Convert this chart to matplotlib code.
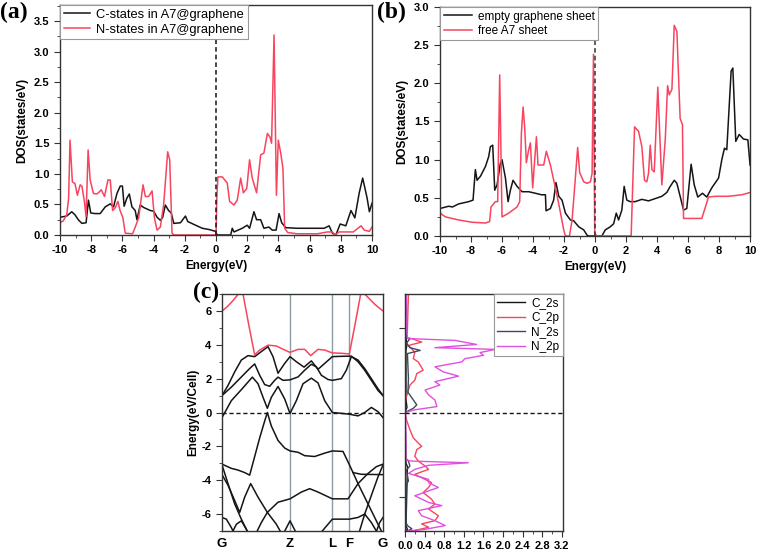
import matplotlib
matplotlib.use('Agg')
import matplotlib.pyplot as plt
import numpy as np
from matplotlib.ticker import MultipleLocator, FormatStrFormatter

plt.rcParams['font.family'] = ['Liberation Sans', 'DejaVu Sans']
plt.rcParams['axes.unicode_minus'] = False

RED = '#f8445f'
MAG = '#e050e0'
SLATE = '#3c4a5e'
BLK = '#151515'

# ---- (a) A7@graphene PDOS ----
a_c_E = [-10, -9.57, -9.25, -9.04, -8.83, -8.6, -8.33, -8.18, -8.03, -7.75, -7.43, -7.1, -6.78, -6.57,
         -6.35, -6.14, -6.0, -5.89, -5.72, -5.56, -5.39, -5.18, -5.07, -4.86, -4.64, -4.21, -4.0, -3.78,
         -3.57, -3.42, -3.25, -3.04, -2.87, -2.71, -2.28, -1.96, -1.81, -1.31, -0.88, -0.45, -0.03, 0.0,
         0.1, 0.94, 1.04, 1.15, 1.68, 2.0, 2.15, 2.43, 2.6, 2.86, 3.07, 3.39, 3.6, 3.85, 4.04, 4.21,
         4.47, 5.22, 6.93, 7.25, 7.46, 7.68, 7.96, 8.32, 8.65, 8.9, 9.18, 9.4, 9.68, 9.83, 10]
a_c = [0.29, 0.31, 0.38, 0.33, 0.25, 0.19, 0.2, 0.57, 0.36, 0.35, 0.35, 0.46, 0.51, 0.46,
       0.68, 0.8, 0.8, 0.47, 0.6, 0.67, 0.46, 0.4, 0.25, 0.49, 0.45, 0.4, 0.39, 0.29,
       0.24, 0.29, 0.49, 0.4, 0.36, 0.19, 0.2, 0.31, 0.22, 0.16, 0.11, 0.09, 0.06, 0.03,
       0.0, 0.0, 0.11, 0.05, 0.11, 0.16, 0.11, 0.38, 0.25, 0.25, 0.11, 0.13, 0.08, 0.08, 0.35, 0.2,
       0.12, 0.11, 0.11, 0.15, 0.03, 0.0, 0.18, 0.15, 0.4, 0.28, 0.69, 0.93, 0.61, 0.38, 0.52]

a_n_E = [-10, -9.8, -9.57, -9.45, -9.36, -9.21, -9.04, -8.89, -8.71, -8.6, -8.44, -8.33, -8.2, -8.07,
         -7.86, -7.65, -7.5, -7.36, -7.15, -6.93, -6.78, -6.63, -6.45, -6.29, -6.15, -5.97, -5.82,
         -5.35, -5.18, -4.96, -4.68, -4.53, -4.32, -4.1, -3.95, -3.78, -3.57, -3.36, -3.1, -2.97,
         -2.82, -2.7, 0.0, 0.05, 0.12, 0.4, 0.72, 0.87, 1.15, 1.36, 1.58, 1.75, 1.97, 2.15, 2.32,
         2.6, 2.86, 3.07, 3.29, 3.46, 3.56, 3.72, 3.87, 3.99, 4.14, 4.29, 4.4, 4.6, 5.2, 6.5, 7.15,
         7.46, 7.62, 7.9, 8.8, 9.3, 9.5, 9.83, 10]
a_n = [0.2, 0.23, 0.33, 0.6, 1.55, 0.87, 0.84, 0.65, 0.82, 0.8, 0.55, 0.3, 1.39, 0.9,
       0.68, 0.67, 0.7, 0.74, 0.63, 0.9, 0.9, 0.4, 0.45, 0.55, 0.4, 0.28, 0.03,
       0.02, 0.13, 0.28, 0.82, 0.63, 0.63, 0.72, 0.28, 0.08, 0.13, 0.49, 1.36, 1.23,
       0.03, 0.0, 0.0, 0.6, 0.95, 0.95, 0.85, 0.55, 0.49, 0.57, 0.93, 0.69, 0.76, 1.23, 0.93,
       0.69, 1.31, 1.34, 1.66, 1.6, 1.5, 3.27, 0.65, 1.55, 1.35, 1.09, 0.11, 0.04, 0.02, 0.02, 0.05,
       0.05, 0.0, 0.05, 0.05, 0.15, 0.08, 0.06, 0.13]

# ---- (b) free sheets DOS ----
b_g_E = [-10, -9.44, -9.2, -8.8, -8.15, -7.87, -7.72, -7.61, -7.4, -7.07, -6.86, -6.75, -6.6, -6.47,
         -6.32, -6.11, -6.0, -5.78, -5.61, -5.46, -5.29, -5.03, -4.71, -4.28, -3.85, -3.46, -3.2,
         -3.16, -2.88, -2.67, -2.52, -2.34, -2.13, -1.91, -1.59, -1.38, -1.05, -0.73, -0.51, -0.4,
         0.44, 0.66, 0.98, 1.2, 1.37, 1.52, 1.73, 1.88, 2.05, 2.27, 2.59, 3.02, 3.45, 3.88, 4.31,
         4.63, 4.85, 5.11, 5.28, 5.49, 5.71, 5.92, 6.2, 6.4, 6.63, 6.93, 7.21, 7.53, 7.97, 8.18,
         8.35, 8.5, 8.78, 8.89, 9.08, 9.3, 9.58, 9.86, 10]
b_g = [0.36, 0.39, 0.38, 0.42, 0.45, 0.47, 0.87, 0.73, 0.78, 0.91, 1.04, 1.17, 1.19, 0.6,
       0.67, 0.95, 1.0, 0.76, 0.45, 0.6, 0.73, 0.65, 0.58, 0.58, 0.56, 0.54, 0.54,
       0.33, 0.36, 0.47, 0.7, 0.52, 0.47, 0.3, 0.21, 0.2, 0.12, 0.08, 0.01, 0.0,
       0.0, 0.08, 0.12, 0.16, 0.3, 0.21, 0.34, 0.65, 0.47, 0.45, 0.45, 0.48, 0.46, 0.49, 0.52,
       0.57, 0.65, 0.73, 0.69, 0.52, 0.34, 0.36, 0.94, 0.67, 0.51, 0.56, 0.51, 0.63, 0.76, 1.0,
       1.15, 1.13, 2.16, 2.2, 1.24, 1.33, 1.27, 1.26, 0.93]

b_a7_E = [-10, -9.65, -8.8, -7.93, -7.07, -6.8, -6.71, -6.43, -6.28, -6.15, -6.0, -5.57, -5.03,
          -4.86, -4.75, -4.64, -4.54, -4.43, -4.28, -4.17, -4.02, -3.91, -3.78, -3.68, -3.46,
          -3.31, -3.14, -2.88, -2.6, -2.34, -2.02, -1.91, -1.65, -1.48, -1.31, -1.12, -0.99,
          -0.73, -0.51, -0.3, -0.19, -0.1, -0.02, 0.13, 2.33, 2.55, 2.81, 3.02, 3.19, 3.34, 3.45,
          3.56, 3.67, 3.82, 4.05, 4.31, 4.53, 4.68, 4.79, 4.96, 5.11, 5.28, 5.49, 5.64, 5.71,
          6.89, 7.32, 7.75, 8.61, 9.47, 10]
b_a7 = [0.3, 0.25, 0.21, 0.18, 0.17, 0.19, 0.38, 0.45, 0.45, 2.11, 0.25, 0.3, 0.38,
        0.45, 1.35, 1.69, 1.43, 0.96, 1.13, 1.22, 0.63, 0.95, 1.3, 0.93, 0.93,
        0.93, 1.11, 0.93, 0.67, 0.42, 0.08, 0.0, 0.0, 0.21, 0.65, 1.16, 0.83,
        0.71, 0.69, 0.71, 0.82, 2.38, 0.03, 0.0, 0.0, 1.43, 1.37, 1.17, 0.73, 0.71, 0.82,
        1.19, 0.87, 0.84, 1.95, 0.67, 1.26, 1.97, 1.85, 1.92, 2.76, 2.68, 1.54, 1.46, 0.23,
        0.23, 0.51, 0.52, 0.52, 0.54, 0.57]

# ---- (c) band structure, path coordinate 0..483 ----
kpath_pos = [0, 204, 331, 382, 483]
kpath_lab = ['G', 'Z', 'L', 'F', 'G']

red_k = [0, 13, 28, 43, 51, 56, 63, 80, 98, 113, 138, 163, 188, 204, 228, 248, 266, 288, 308, 331,
         358, 382, 399, 416, 421, 428, 443, 458, 473, 483]
red_E = [6.0, 6.2, 6.5, 6.85, 7.05, 7.3, 7.0, 5.2, 3.4, 3.69, 3.98, 3.93, 3.69, 3.55, 3.73, 3.73,
         3.36, 3.73, 3.69, 3.52, 3.5, 3.46, 5.2, 7.0, 7.3, 7.0, 6.7, 6.4, 6.15, 6.0]

bands = [
    ([0, 18, 38, 58, 78, 98, 118, 138, 153, 168, 188, 204, 223, 246, 268, 288, 308, 331, 358, 388,
      408, 428, 448, 468, 483],
     [1.0, 1.6, 2.4, 3.1, 3.36, 3.3, 3.6, 3.89, 3.3, 2.32, 2.9, 3.3, 3.0, 2.68, 3.05, 2.55, 2.9,
      3.3, 3.32, 3.33, 3.0, 2.5, 1.9, 1.3, 1.0]),
    ([0, 28, 58, 83, 98, 113, 128, 143, 158, 168, 183, 204, 228, 248, 268, 283, 298, 318, 331, 358,
      373, 388, 408, 428, 448, 468, 483],
     [1.0, 1.5, 2.1, 2.6, 2.87, 2.2, 1.65, 1.55, 1.9, 2.09, 1.9, 1.93, 2.1, 2.5, 2.85, 2.7, 2.2,
      1.95, 1.9, 2.0, 2.5, 3.3, 3.1, 2.6, 2.0, 1.4, 1.0]),
    ([0, 28, 58, 91, 108, 123, 136, 148, 168, 188, 204, 223, 243, 268, 288, 308, 331, 358, 382,
      408, 428, 448, 468, 483],
     [-0.3, 0.7, 1.35, 2.09, 1.7, 0.9, 0.25, 0.9, 1.54, 0.8, -0.06, 0.7, 1.7, 2.03, 1.75, 0.7, 0.0,
      -0.05, -0.1, -0.2, 0.0, 0.3, 0.05, -0.3]),
    ([0, 28, 48, 68, 83, 98, 113, 128, 136, 148, 168, 188, 204, 228, 248, 278, 308, 331, 363, 380,
      393, 418, 483],
     [-3.05, -3.3, -3.4, -3.55, -3.7, -2.6, -1.5, -0.5, 0.0, -0.8, -1.65, -2.1, -2.27, -2.35, -2.55,
      -2.6, -2.4, -2.27, -2.3, -3.0, -3.55, -3.65, -3.67]),
    ([0, 18, 38, 53, 68, 86, 108, 136, 163, 183],
     [-3.67, -4.3, -5.2, -5.9, -5.0, -4.2, -5.0, -5.9, -6.6, -7.3]),
    ([98, 118, 136, 168, 204, 238, 263, 288, 331, 378, 408, 438, 463, 483],
     [-7.3, -6.5, -5.9, -5.3, -5.1, -4.7, -4.5, -4.7, -5.1, -5.1, -4.2, -3.6, -3.2, -3.05]),
    ([0, 18, 38, 58, 73, 83],
     [-3.1, -4.2, -5.4, -6.3, -6.9, -7.3]),
    ([393, 408, 428, 448, 463, 478, 483],
     [-3.55, -4.2, -5.0, -5.8, -6.4, -7.0, -7.2]),
    ([408, 428, 448, 468, 483],
     [-7.3, -6.0, -4.9, -3.8, -3.1]),
    ([0, 13, 28, 38], [-6.2, -6.3, -6.8, -7.2]),
    ([28, 43, 58, 73, 83], [-7.2, -6.6, -6.4, -6.9, -7.3]),
    ([183, 204, 225], [-7.2, -6.4, -7.2]),
    ([288, 318, 331, 382, 408, 428, 448, 463, 473], [-7.3, -6.6, -6.3, -6.3, -6.2, -6.0, -6.5, -7.0, -7.3]),
    ([458, 473, 483], [-7.3, -6.5, -6.2]),
]

# ---- (c) PDOS (energy on y) ----
c2s_E = [7, 4.4, 4.0, 3.7, 0.8, 0.3, 0.0, -3.0, -3.2, -6.7, -6.9, -7]
c2s = [0.02, 0.02, 0.04, 0.02, 0.02, 0.04, 0.0, 0.02, 0.05, 0.02, 0.05, 0.02]

c2p_E = [7, 6.0, 5.0, 4.4, 4.36, 4.16, 3.96, 3.57, 3.18, 2.99, 2.5, 2.3, 1.91, 1.62, 1.33, 0.74,
         0.0, -0.43, -1.02, -1.5, -1.8, -2.0, -2.19, -2.58, -2.87, -3.16, -3.36, -3.65, -3.85,
         -4.14, -4.43, -4.73, -5.12, -5.41, -5.7, -6.1, -6.39, -6.58, -6.78, -6.97, -7]
c2p = [0.07, 0.06, 0.05, 0.04, 0.14, 0.34, 0.07, 0.2, 0.17, 0.27, 0.37, 0.24, 0.2, 0.1, 0.07, 0.01,
       0.0, 0.03, 0.1, 0.17, 0.27, 0.34, 0.24, 0.2, 0.27, 0.41, 0.48, 0.2, 0.34,
       0.54, 0.48, 0.37, 0.54, 0.61, 0.48, 0.68, 0.61, 0.34, 0.48, 0.2, 0.25]

n2s_E = [7, 4.4, 4.36, 4.1, 3.83, 3.67, 3.48, 2.0, 1.2, 0.74, 0.45, 0.25, 0.0, -2.7, -2.87, -3.16,
         -3.4, -4.04, -4.3, -6.5, -6.68, -6.87, -7]
n2s = [0.02, 0.02, 0.1, 0.03, 0.1, 0.31, 0.05, 0.07, 0.06, 0.17, 0.24, 0.17, 0.0, 0.01, 0.07, 0.1,
       0.03, 0.07, 0.02, 0.02, 0.05, 0.14, 0.05]

n2p_E = [7, 6.0, 5.0, 4.4, 4.36, 4.26, 4.02, 3.83, 3.73, 3.54, 3.38, 3.18, 2.99, 2.7, 2.4, 2.15,
         1.82, 1.62, 1.33, 1.04, 0.74, 0.35, 0.16, 0.0, -1.5, -2.8, -2.87, -2.97, -3.12, -3.36,
         -3.6, -3.95, -4.14, -4.43, -4.63, -4.92, -5.31, -5.5, -5.8, -6.1, -6.39, -6.68, -6.9, -7]
n2p = [0.03, 0.04, 0.03, 0.05, 0.14, 1.02, 1.46, 0.61, 1.84, 1.53, 1.6, 1.22, 1.16, 0.61, 0.78, 1.09,
       0.61, 0.71, 0.41, 0.48, 0.61, 0.65, 0.2, 0.01, 0.02, 0.02, 0.14, 1.29, 0.48, 0.2,
       0.07, 0.48, 0.48, 0.68, 0.48, 0.2, 0.48, 0.75, 0.27, 0.34, 0.61, 0.82, 0.41, 0.06]


def style(ax):
    for s in ax.spines.values():
        s.set_color('#333333')
        s.set_linewidth(1.0)
    ax.tick_params(which='both', direction='out', top=False, right=False,
                   color='#333333', labelsize=8)
    ax.tick_params(which='major', length=4)
    ax.tick_params(which='minor', length=2)
    for lab in ax.get_xticklabels() + ax.get_yticklabels():
        lab.set_fontweight('bold')


def box_legend(ax, loc, anchor, size, hlen):
    leg = ax.legend(loc=loc, bbox_to_anchor=anchor, borderaxespad=0, fontsize=size,
                    fancybox=False, handlelength=hlen, borderpad=0.3, labelspacing=0.2,
                    handletextpad=0.5, framealpha=1)
    leg.get_frame().set_edgecolor('#999999')
    leg.get_frame().set_linewidth(0.8)


fig = plt.figure(figsize=(7.58, 5.51), dpi=100)

# panel (a)
ax1 = fig.add_axes([0.0792, 0.5735, 0.4116, 0.4174])
ax1.plot(a_c_E, a_c, color=BLK, lw=1.1, label='C-states in A7@graphene')
ax1.plot(a_n_E, a_n, color=RED, lw=1.1, label='N-states in A7@graphene')
ax1.axvline(0, color=BLK, ls=(0, (3, 2)), lw=1.1)
ax1.set_xlim(-10, 10)
ax1.set_ylim(0, 3.76)
ax1.xaxis.set_major_locator(MultipleLocator(2))
ax1.xaxis.set_minor_locator(MultipleLocator(1))
ax1.yaxis.set_major_locator(MultipleLocator(0.5))
ax1.yaxis.set_minor_locator(MultipleLocator(0.25))
ax1.yaxis.set_major_formatter(FormatStrFormatter('%.1f'))
ax1.set_xlabel('Energy(eV)', fontsize=8.5, fontweight='bold', labelpad=3)
ax1.set_ylabel('DOS(states/eV)', fontsize=8.5, fontweight='bold', labelpad=4)
style(ax1)
box_legend(ax1, 'upper left', (0, 1), 9.3, 2.0)

# panel (b)
ax2 = fig.add_axes([0.5805, 0.5717, 0.4090, 0.4156])
ax2.plot(b_g_E, b_g, color=BLK, lw=1.1, label='empty graphene sheet')
ax2.plot(b_a7_E, b_a7, color=RED, lw=1.1, label='free A7 sheet')
ax2.axvline(0, color='#333333', ls=(0, (3, 2)), lw=1.1)
ax2.set_xlim(-10, 10)
ax2.set_ylim(0, 3.0)
ax2.xaxis.set_major_locator(MultipleLocator(2))
ax2.xaxis.set_minor_locator(MultipleLocator(1))
ax2.yaxis.set_major_locator(MultipleLocator(0.5))
ax2.yaxis.set_minor_locator(MultipleLocator(0.25))
ax2.yaxis.set_major_formatter(FormatStrFormatter('%.1f'))
ax2.set_xlabel('Energy(eV)', fontsize=8.5, fontweight='bold', labelpad=3)
ax2.set_ylabel('DOS(states/eV)', fontsize=8.5, fontweight='bold', labelpad=4)
style(ax2)
box_legend(ax2, 'upper left', (0, 1), 8.5, 2.4)

# panel (c) bands
ax3 = fig.add_axes([0.2929, 0.0363, 0.2124, 0.4301])
for k in kpath_pos[1:-1]:
    ax3.axvline(k, color='#8c9ca4', lw=1.0)
for k, e in bands:
    ax3.plot(k, e, color=BLK, lw=1.1)
ax3.plot(red_k, red_E, color=RED, lw=1.1)
ax3.axhline(0, color=BLK, ls=(0, (3, 2)), lw=1.0)
ax3.set_xlim(kpath_pos[0], kpath_pos[-1])
ax3.set_ylim(-7, 7)
ax3.set_xticks(kpath_pos)
ax3.set_xticklabels(kpath_lab)
ax3.yaxis.set_major_locator(MultipleLocator(2))
ax3.yaxis.set_minor_locator(MultipleLocator(1))
ax3.set_ylabel('Energy(eV/Cell)', fontsize=8.5, fontweight='bold', labelpad=2)
style(ax3)
ax3.tick_params(axis='x', length=0, labelsize=9.5, pad=5)

# panel (c) PDOS
ax4 = fig.add_axes([0.5343, 0.0363, 0.2084, 0.4301])
ax4.plot(c2s, c2s_E, color=BLK, lw=1.0, label='C_2s')
ax4.plot(c2p, c2p_E, color=RED, lw=1.0, label='C_2p')
ax4.plot(n2s, n2s_E, color=SLATE, lw=1.0, label='N_2s')
ax4.plot(n2p, n2p_E, color=MAG, lw=1.0, label='N_2p')
ax4.axhline(0, color=BLK, ls=(0, (3, 2)), lw=1.0)
ax4.set_xlim(0, 3.22)
ax4.set_ylim(-7, 7)
ax4.xaxis.set_major_locator(MultipleLocator(0.4))
ax4.xaxis.set_minor_locator(MultipleLocator(0.2))
ax4.xaxis.set_major_formatter(FormatStrFormatter('%.1f'))
ax4.set_yticks([-5, 0, 5])
ax4.set_yticklabels([])
style(ax4)
box_legend(ax4, 'upper right', (1, 1), 8.5, 2.4)

# panel letters
fig.text(0.0, 0.997, '(a)', family='Liberation Serif', fontweight='bold', fontsize=17, va='top')
fig.text(0.497, 0.997, '(b)', family='Liberation Serif', fontweight='bold', fontsize=17, va='top')
fig.text(0.254, 0.488, '(c)', family='Liberation Serif', fontweight='bold', fontsize=17, va='top')

fig.savefig('out.png', dpi=100)
